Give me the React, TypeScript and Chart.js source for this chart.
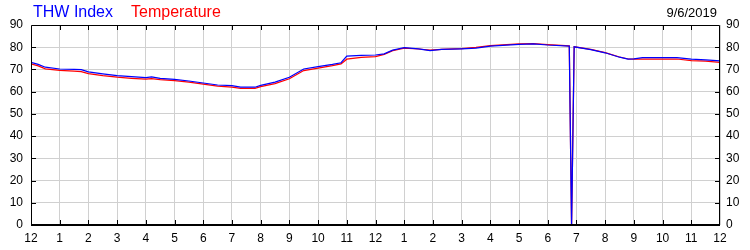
import React, { useEffect, useRef } from "react";
import { Chart, registerables } from "chart.js";

Chart.register(...registerables);

// hours since midnight
const hours = [
  0, 0.25, 0.5, 1, 1.5, 1.75, 2, 2.5, 3, 3.5, 4, 4.2, 4.5, 5, 5.5, 6, 6.5, 7, 7.3, 7.8,
  8, 8.5, 9, 9.5, 10, 10.5, 10.8, 11, 11.5, 12, 12.3, 12.6, 13, 13.5, 13.9, 14.3, 15, 15.5,
  16, 17, 17.5, 18, 18.75, 18.83, 18.92, 19.5, 20, 20.5, 20.8, 21, 21.3, 22, 22.5, 23, 23.5, 24,
];
const thwIndex = [
  73.2, 72.3, 71.0, 70.2, 70.0, 69.9, 68.9, 68.0, 67.2, 66.8, 66.3, 66.6, 66.0, 65.5, 64.8, 63.9, 63.0, 62.7, 62.0, 62.0,
  62.8, 64.3, 66.5, 70.2, 71.3, 72.3, 73.0, 76.0, 76.3, 76.5, 77.0, 78.7, 79.8, 79.3, 78.5, 79.0, 79.3, 79.6,
  80.5, 81.3, 81.5, 81.0, 80.5, 0, 80.2, 78.9, 77.5, 75.5, 74.7, 74.8, 75.3, 75.3, 75.3, 74.6, 74.3, 73.9,
];
const temperature = [
  72.5, 71.6, 70.3, 69.6, 69.2, 69.0, 68.1, 67.2, 66.5, 66.0, 65.6, 65.9, 65.4, 65.0, 64.3, 63.4, 62.5, 62.0, 61.5, 61.5,
  62.3, 63.6, 65.8, 69.5, 70.6, 71.7, 72.5, 74.6, 75.4, 75.8, 76.8, 78.5, 79.6, 79.2, 78.7, 79.0, 79.4, 79.9,
  80.7, 81.5, 81.6, 81.2, 80.6, 0, 80.2, 79.0, 77.6, 75.6, 74.7, 74.6, 74.7, 74.7, 74.7, 74.0, 73.7, 73.2,
];
const seriesNames = ["THW Index", "Temperature"];
const dateLabel = "9/6/2019";

const FONT = "'Liberation Sans', Arial, sans-serif";

const framePlugin = {
  id: "frame",
  afterDraw(chart: any) {
    const { ctx, chartArea } = chart;
    const { left, right, top, bottom } = chartArea;
    const xs = chart.scales.x;
    const ys = chart.scales.y;
    ctx.save();
    ctx.strokeStyle = "#000";
    ctx.lineWidth = 1;
    // inner tick marks
    ctx.beginPath();
    for (let h = 1; h < 24; h++) {
      const px = Math.round(xs.getPixelForValue(h)) + 0.5;
      ctx.moveTo(px, bottom);
      ctx.lineTo(px, bottom - 5);
      ctx.moveTo(px, top);
      ctx.lineTo(px, top + 5);
    }
    for (let v = 10; v < 90; v += 10) {
      const py = Math.round(ys.getPixelForValue(v)) + 0.5;
      ctx.moveTo(left, py);
      ctx.lineTo(left + 5, py);
      ctx.moveTo(right, py);
      ctx.lineTo(right - 5, py);
    }
    // left, top, right frame (thin)
    ctx.moveTo(left + 0.5, bottom);
    ctx.lineTo(left + 0.5, top + 0.5);
    ctx.lineTo(right - 0.5, top + 0.5);
    ctx.lineTo(right - 0.5, bottom);
    ctx.stroke();
    // bottom axis (thicker)
    ctx.lineWidth = 2;
    ctx.beginPath();
    ctx.moveTo(left, bottom);
    ctx.lineTo(right, bottom);
    ctx.stroke();
    // header texts
    ctx.textBaseline = "alphabetic";
    ctx.font = `16px ${FONT}`;
    ctx.textAlign = "left";
    ctx.fillStyle = "#0000ff";
    ctx.fillText(seriesNames[0], 33, 17);
    ctx.fillStyle = "#ff0000";
    ctx.fillText(seriesNames[1], 131, 17);
    ctx.font = `13px ${FONT}`;
    ctx.fillStyle = "#000";
    ctx.textAlign = "right";
    ctx.fillText(dateLabel, 717, 17);
    ctx.restore();
  },
};

export default function App() {
  const ref = useRef<HTMLCanvasElement | null>(null);
  useEffect(() => {
    document.body.style.margin = "0";
    const canvas = ref.current!;
    const chart = new Chart(canvas, {
      type: "line",
      data: {
        datasets: [
          {
            label: seriesNames[0],
            data: hours.map((h, i) => ({ x: h, y: thwIndex[i] })),
            borderColor: "#0000ff",
            borderWidth: 1.25,
            pointRadius: 0,
            tension: 0,
            yAxisID: "y",
          },
          {
            label: seriesNames[1],
            data: hours.map((h, i) => ({ x: h, y: temperature[i] })),
            borderColor: "#ff0000",
            borderWidth: 1.25,
            pointRadius: 0,
            tension: 0,
            yAxisID: "y",
          },
        ],
      },
      options: {
        animation: false,
        responsive: false,
        maintainAspectRatio: false,
        layout: { padding: { top: 25, left: 0, right: 0, bottom: 0 } },
        plugins: { legend: { display: false }, tooltip: { enabled: false } },
        scales: {
          x: {
            type: "linear",
            min: 0,
            max: 24,
            afterFit: (s: any) => {
              s.height = 25;
            },
            grid: { color: "#d0d0d0", drawTicks: false },
            border: { display: false },
            ticks: {
              stepSize: 1,
              padding: 6,
              color: "#000",
              font: { family: FONT, size: 12 },
              maxRotation: 0,
              autoSkip: false,
              callback: (v: any) => {
                const n = Number(v) % 12;
                return n === 0 ? "12" : String(n);
              },
            },
          },
          y: {
            position: "left",
            min: 0,
            max: 90,
            afterFit: (s: any) => {
              s.width = 31;
            },
            grid: { color: "#d0d0d0", drawTicks: false },
            border: { display: false },
            ticks: { stepSize: 10, padding: 8, color: "#000", font: { family: FONT, size: 12 } },
          },
          y2: {
            position: "right",
            min: 0,
            max: 90,
            afterFit: (s: any) => {
              s.width = 30;
            },
            grid: { display: false, drawTicks: false },
            border: { display: false },
            ticks: { stepSize: 10, padding: 6, color: "#000", font: { family: FONT, size: 12 } },
          },
        },
      },
      plugins: [framePlugin],
    });
    return () => chart.destroy();
  }, []);
  return (
    <div style={{ position: "absolute", left: 0, top: 0, width: 750, height: 250 }}>
      <canvas ref={ref} width={750} height={250} style={{ width: 750, height: 250 }} />
    </div>
  );
}
